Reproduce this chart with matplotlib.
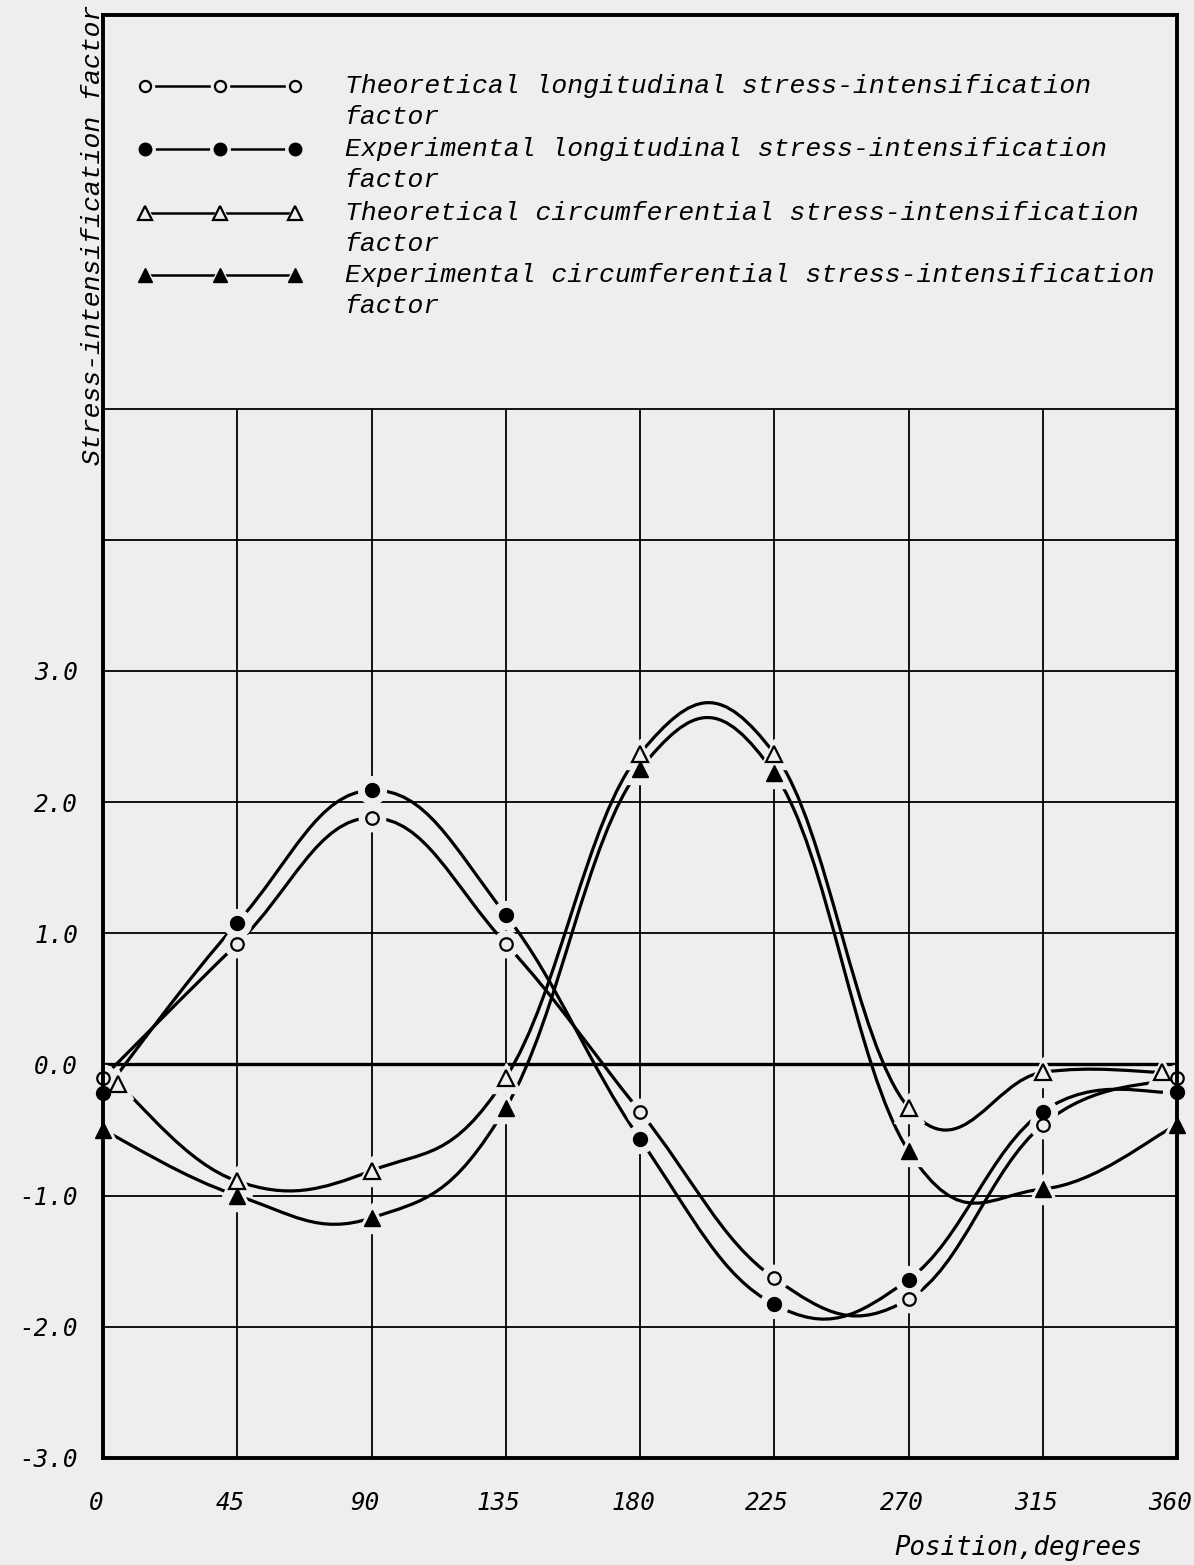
import matplotlib.pyplot as plt
import numpy as np
from matplotlib.path import Path
from matplotlib.patches import PathPatch
from matplotlib.transforms import ScaledTranslation

# values (position in degrees, stress-intensification factor)
pos = [0, 45, 90, 135, 180, 225, 270, 315, 360]
pos_theo_circ = [5, 45, 90, 135, 180, 225, 270, 315, 355]
theo_long = [-0.10, 0.92, 1.88, 0.92, -0.36, -1.63, -1.79, -0.46, -0.10]
exp_long = [-0.22, 1.08, 2.09, 1.14, -0.57, -1.83, -1.64, -0.36, -0.21]
theo_circ = [-0.15, -0.89, -0.81, -0.10, 2.37, 2.37, -0.33, -0.06, -0.06]
exp_circ = [-0.50, -1.00, -1.17, -0.33, 2.25, 2.22, -0.66, -0.95, -0.46]

legend_labels = [
    ("Theoretical longitudinal stress-intensification", "factor"),
    ("Experimental longitudinal stress-intensification", "factor"),
    ("Theoretical circumferential stress-intensification", "factor"),
    ("Experimental circumferential stress-intensification", "factor"),
]
xticks = [0, 45, 90, 135, 180, 225, 270, 315, 360]
yticks = [-3, -2, -1, 0, 1, 2, 3]
ytick_labels = ["-3.0", "-2.0", "-1.0", "0.0", "1.0", "2.0", "3.0"]

bg = '#eeeeee'
mono_it = dict(family='Liberation Mono', style='italic')
gothic_it = dict(family='DejaVu Sans Mono', style='italic')


def smooth_path(xs, ys, k=5.0):
    # smooth curve through the points (cardinal spline as cubic Bezier segments)
    p = np.column_stack([xs, ys]).astype(float)
    ext = np.vstack([p[0], p, p[-1]])
    verts = [p[0]]
    codes = [Path.MOVETO]
    for i in range(1, len(ext) - 2):
        p0, p1, p2, p3 = ext[i - 1], ext[i], ext[i + 1], ext[i + 2]
        verts += [p1 + (p2 - p0) / k, p2 - (p3 - p1) / k, p2]
        codes += [Path.CURVE4] * 3
    return Path(verts, codes)


fig = plt.figure(figsize=(11.94, 15.65), dpi=100, facecolor=bg)
ax = fig.add_axes([0.0863, 0.0684, 0.8995, 0.922])
ax.set_facecolor(bg)
ax.set_xlim(0, 360)
ax.set_ylim(-3, 8)

# grid
for y in range(-2, 6):
    ax.hlines(y, 0, 360, color='black', lw=2.4 if y == 0 else 1.3, zorder=1)
for x in xticks[1:-1]:
    ax.vlines(x, -3, 5, color='black', lw=1.3, zorder=1)

styles = [
    (pos, theo_long, dict(marker='o', ms=9, mfc=bg, mec='black', mew=1.6)),
    (pos, exp_long, dict(marker='o', ms=10, mfc='black', mec='black', mew=1)),
    (pos_theo_circ, theo_circ, dict(marker='^', ms=11, mfc=bg, mec='black', mew=1.6)),
    (pos, exp_circ, dict(marker='^', ms=11, mfc='black', mec='black', mew=1)),
]

for xs, ys, st in styles:
    ax.add_patch(PathPatch(smooth_path(xs, ys), fill=False, lw=2.3,
                           edgecolor='black', zorder=3, capstyle='round'))
for xs, ys, st in styles:
    ax.plot(xs, ys, ls='none', marker=st['marker'], ms=st['ms'] + 10,
            mfc=bg, mec=bg, zorder=4, clip_on=False)
for xs, ys, st in styles:
    ax.plot(xs, ys, ls='none', zorder=5, clip_on=False, **st)

# legend drawn by hand inside the top part of the axes
lx = [0.039, 0.109, 0.179]
ly = [0.951, 0.907, 0.863, 0.820]
for (xs, ys, st), yy, (l1, l2) in zip(styles, ly, legend_labels):
    ax.plot(lx, [yy] * 3, color='black', lw=1.8, transform=ax.transAxes, zorder=3)
    ax.plot(lx, [yy] * 3, ls='none', marker=st['marker'], ms=st['ms'] + 4,
            mfc=bg, mec=bg, transform=ax.transAxes, zorder=4)
    st2 = dict(st)
    st2['ms'] = st['ms'] - 1
    ax.plot(lx, [yy] * 3, ls='none', transform=ax.transAxes, zorder=5, **st2)
    ax.text(0.225, yy, l1, transform=ax.transAxes, va='center', ha='left',
            fontsize=19, **mono_it)
    ax.text(0.225, yy - 0.0215, l2, transform=ax.transAxes, va='center', ha='left',
            fontsize=19, **mono_it)

# ticks and labels
ax.set_xticks(xticks)
ax.set_xticklabels([str(v) for v in xticks], fontsize=17.5, **gothic_it)
ax.set_yticks(yticks)
ax.set_yticklabels(ytick_labels, fontsize=17.5, **gothic_it)
ax.tick_params(length=0)
ax.tick_params(axis='x', pad=24)
ax.tick_params(axis='y', pad=18)
for lab in ax.get_xticklabels():
    lab.set_transform(lab.get_transform() + ScaledTranslation(-0.07, 0, fig.dpi_scale_trans))

for sp in ax.spines.values():
    sp.set_linewidth(2.8)
    sp.set_zorder(6)

fig.text(93 / 1194, 1 - 5 / 1565, "Stress-intensification factor", rotation=90,
         ha='center', va='top', fontsize=19, **mono_it)
fig.text(1142 / 1194, 1 - 1548 / 1565, "Position,degrees", ha='right', va='center',
         fontsize=18.5, **gothic_it)

fig.savefig("out.png", dpi=100, facecolor=bg)
